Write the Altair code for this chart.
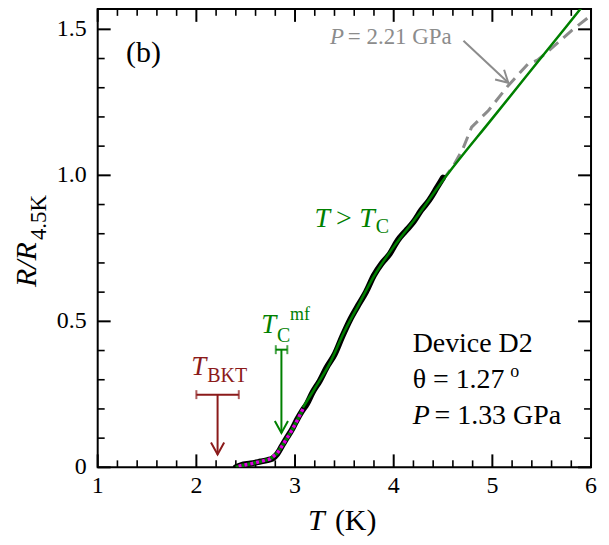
import altair as alt
import pandas as pd

SERIF = "Liberation Serif"

# ---------------- data ----------------
black_T = [2.40, 2.45, 2.55, 2.65, 2.72, 2.77, 2.82, 2.87, 2.92, 2.97, 3.02, 3.07,
           3.12, 3.18, 3.25, 3.32, 3.40, 3.48, 3.56, 3.64, 3.72, 3.80, 3.88, 3.96,
           4.04, 4.12, 4.20, 4.28, 4.36, 4.44, 4.50]
black_R = [0.000, 0.007, 0.013, 0.020, 0.025, 0.030, 0.046, 0.075, 0.103, 0.130, 0.163, 0.192,
           0.217, 0.258, 0.296, 0.342, 0.386, 0.449, 0.507, 0.555, 0.601, 0.658, 0.699, 0.731,
           0.777, 0.809, 0.840, 0.881, 0.915, 0.959, 0.992]

low_T = [2.40, 2.45, 2.55, 2.65, 2.75, 2.82, 2.90, 2.97, 3.03, 3.08]
low_R = [0.000, 0.006, 0.012, 0.020, 0.029, 0.048, 0.090, 0.128, 0.166, 0.200]

fit_T = [3.08, 3.20, 3.35, 3.50, 3.65, 3.80, 4.00, 4.25, 4.50, 5.00, 5.50, 6.00]
fit_R = [0.205, 0.270, 0.355, 0.465, 0.560, 0.655, 0.755, 0.865, 0.983, 1.195, 1.405, 1.615]

p221_T = [4.50, 4.60, 4.70, 4.79, 4.96, 5.16, 5.36, 5.46, 5.63, 5.80, 5.97, 6.00]
p221_R = [0.985, 1.030, 1.090, 1.165, 1.222, 1.307, 1.381, 1.395, 1.444, 1.495, 1.540, 1.550]

x_major = [1, 2, 3, 4, 5, 6]
x_labels = ["1", "2", "3", "4", "5", "6"]
x_minor = [1.2, 1.4, 1.6, 1.8, 2.2, 2.4, 2.6, 2.8, 3.2, 3.4, 3.6, 3.8,
           4.2, 4.4, 4.6, 4.8, 5.2, 5.4, 5.6, 5.8]
y_major = [0, 0.5, 1.0, 1.5]
y_labels = ["0", "0.5", "1.0", "1.5"]
y_minor = [0.1, 0.2, 0.3, 0.4, 0.6, 0.7, 0.8, 0.9, 1.1, 1.2, 1.3, 1.4]

# markers: T_BKT and T_C^mf (centre, low, high, bar level, arrow tip)
bkt = dict(T=2.215, lo=2.00, hi=2.43, R=0.249, tip=0.044)
tcmf = dict(T=2.862, lo=2.805, hi=2.922, R=0.403, tip=0.118)
# arrow pointing to the P = 2.21 GPa curve
gray_arrow = dict(T=4.707, R=1.461, T2=5.162, R2=1.317)

X_DOMAIN = [1, 6]
Y_DOMAIN = [0, 1.570]

W, H = 495, 460
DARKRED = "#8b1a1a"
GREEN = "#008000"
GRAY = "#8c8c8c"
MAGENTA = "#e000e0"

xs = alt.Scale(domain=X_DOMAIN, nice=False, zero=False)
ys = alt.Scale(domain=Y_DOMAIN, nice=False, zero=False)


def X(field="T"):
    return alt.X(f"{field}:Q", scale=xs, axis=None)


def Y(field="R"):
    return alt.Y(f"{field}:Q", scale=ys, axis=None)


layers = []

# inward ticks on all four sides
for vals, ln, sw in [(x_major, 13, 2), (x_minor, 7, 1.6)]:
    d = pd.DataFrame({"T": vals})
    layers.append(alt.Chart(d).mark_rule(color="black", strokeWidth=sw).encode(
        x=X(), y=alt.value(H), y2=alt.value(H - ln)))
    layers.append(alt.Chart(d).mark_rule(color="black", strokeWidth=sw).encode(
        x=X(), y=alt.value(0), y2=alt.value(ln)))
for vals, ln, sw in [(y_major, 13, 2), (y_minor, 7, 1.6)]:
    d = pd.DataFrame({"R": vals})
    layers.append(alt.Chart(d).mark_rule(color="black", strokeWidth=sw).encode(
        y=Y(), x=alt.value(0), x2=alt.value(ln)))
    layers.append(alt.Chart(d).mark_rule(color="black", strokeWidth=sw).encode(
        y=Y(), x=alt.value(W), x2=alt.value(W - ln)))

# tick labels
xl = pd.DataFrame({"T": x_major, "txt": x_labels})
layers.append(alt.Chart(xl).mark_text(font=SERIF, fontSize=24, color="black",
                                      align="center", baseline="alphabetic").encode(
    x=X(), y=alt.value(H + 26), text="txt:N"))
yl = pd.DataFrame({"R": y_major, "txt": y_labels})
layers.append(alt.Chart(yl).mark_text(font=SERIF, fontSize=24, color="black",
                                      align="right", baseline="middle").encode(
    y=Y(), x=alt.value(-11), text="txt:N"))

# curves
gray_df = pd.DataFrame({"T": p221_T, "R": p221_R})
layers.append(alt.Chart(gray_df).mark_line(color=GRAY, strokeWidth=3, strokeDash=[12, 7],
                                           clip=True).encode(x=X(), y=Y(), order="T:Q"))

black_df = pd.DataFrame({"T": black_T, "R": black_R})
layers.append(alt.Chart(black_df).mark_line(color="black", strokeWidth=6, clip=True,
                                            strokeJoin="round", strokeCap="round",
                                            interpolate="monotone").encode(
    x=X(), y=Y(), order="T:Q"))

low_df = pd.DataFrame({"T": low_T, "R": low_R})
layers.append(alt.Chart(low_df).mark_line(color=GREEN, strokeWidth=3.5, strokeDash=[3, 3],
                                          clip=True).encode(x=X(), y=Y(), order="T:Q"))
layers.append(alt.Chart(low_df).mark_line(color=MAGENTA, strokeWidth=3.5, strokeDash=[3, 3],
                                          strokeDashOffset=3, clip=True).encode(
    x=X(), y=Y(), order="T:Q"))

fit_df = pd.DataFrame({"T": fit_T, "R": fit_R})
layers.append(alt.Chart(fit_df).mark_line(color=GREEN, strokeWidth=2.5, clip=True,
                                          interpolate="monotone").encode(
    x=X(), y=Y(), order="T:Q"))

# markers with arrows
ARROW = "M-0.55,-1L0,0L0.55,-1"
for m, col in [(bkt, DARKRED), (tcmf, GREEN)]:
    bar = pd.DataFrame({"T": [m["lo"]], "T2": [m["hi"]], "R": [m["R"]]})
    layers.append(alt.Chart(bar).mark_rule(color=col, strokeWidth=2).encode(
        x=X(), x2="T2:Q", y=Y()))
    caps = pd.DataFrame({"T": [m["lo"], m["hi"]], "R": [m["R"], m["R"]]})
    layers.append(alt.Chart(caps).mark_tick(color=col, orient="vertical", size=9,
                                            thickness=2).encode(x=X(), y=Y()))
    stem = pd.DataFrame({"T": [m["T"]], "R": [m["R"]], "R2": [m["tip"]]})
    layers.append(alt.Chart(stem).mark_rule(color=col, strokeWidth=2).encode(
        x=X(), y=Y(), y2="R2:Q"))
    tip = pd.DataFrame({"T": [m["T"]], "R": [m["tip"]]})
    layers.append(alt.Chart(tip).mark_point(shape=ARROW, filled=False, size=576, color=col,
                                            strokeWidth=2, opacity=1).encode(x=X(), y=Y()))

ga = pd.DataFrame({"T": [gray_arrow["T"]], "R": [gray_arrow["R"]],
                   "T2": [gray_arrow["T2"]], "R2": [gray_arrow["R2"]]})
layers.append(alt.Chart(ga).mark_rule(color=GRAY, strokeWidth=2).encode(
    x=X(), y=Y(), x2="T2:Q", y2="R2:Q"))
gtip = pd.DataFrame({"T": [gray_arrow["T2"]], "R": [gray_arrow["R2"]]})
layers.append(alt.Chart(gtip).mark_point(shape=ARROW, filled=False, size=576, color=GRAY,
                                         strokeWidth=2, angle=313, opacity=1).encode(
    x=X(), y=Y()))


# text annotations in data coordinates
def label(txt, T, R, size, color="black", italic=False):
    d = pd.DataFrame({"T": [T], "R": [R], "txt": [txt]})
    return alt.Chart(d).mark_text(font=SERIF, fontSize=size, color=color,
                                  fontStyle="italic" if italic else "normal",
                                  align="left", baseline="alphabetic").encode(
        x=X(), y=Y(), text="txt:N")


layers += [
    label("(b)", 1.288, 1.387, 30),
    label("P", 3.354, 1.4505, 23, GRAY, True),
    label("= 2.21 GPa", 3.535, 1.4505, 23, GRAY),
    label("T", 3.197, 0.8225, 28, GREEN, True),
    label(">", 3.414, 0.8225, 28, GREEN),
    label("T", 3.652, 0.8225, 28, GREEN, True),
    label("C", 3.818, 0.802, 20, GREEN),
    label("T", 2.657, 0.4608, 27, GREEN, True),
    label("C", 2.818, 0.430, 20, GREEN),
    label("mf", 2.949, 0.505, 18, GREEN),
    label("T", 1.949, 0.3174, 27, DARKRED, True),
    label("BKT", 2.111, 0.2935, 20, DARKRED),
    label("Device D2", 4.192, 0.396, 28),
    label("\u03b8 = 1.27", 4.192, 0.273, 28),
    label("o", 5.182, 0.311, 18),
    label("P", 4.192, 0.1468, 28, "black", True),
    label("= 1.33 GPa", 4.414, 0.1468, 28),
]


# axis titles (pixel positions outside the plot area)
def title(txt, px, py, size, italic=False, angle=0):
    d = pd.DataFrame({"txt": [txt]})
    return alt.Chart(d).mark_text(font=SERIF, fontSize=size, color="black",
                                  fontStyle="italic" if italic else "normal",
                                  align="left", baseline="alphabetic", angle=angle).encode(
        x=alt.value(px), y=alt.value(py), text="txt:N")


layers += [
    title("T", 211, 523, 30, True),
    title("(K)", 238, 523, 30),
    title("R/R", -62, 279, 30, True, 270),
    title("4.5K", -52, 232, 23, False, 270),
]

chart = alt.layer(*layers).properties(
    width=W, height=H,
    autosize=alt.AutoSizeParams(type="none"),
    padding={"left": 90, "top": 0, "right": 10, "bottom": 70},
).configure_view(stroke="black", strokeWidth=2)

chart.save("out.html", embed_options={"renderer": "svg", "actions": False})
